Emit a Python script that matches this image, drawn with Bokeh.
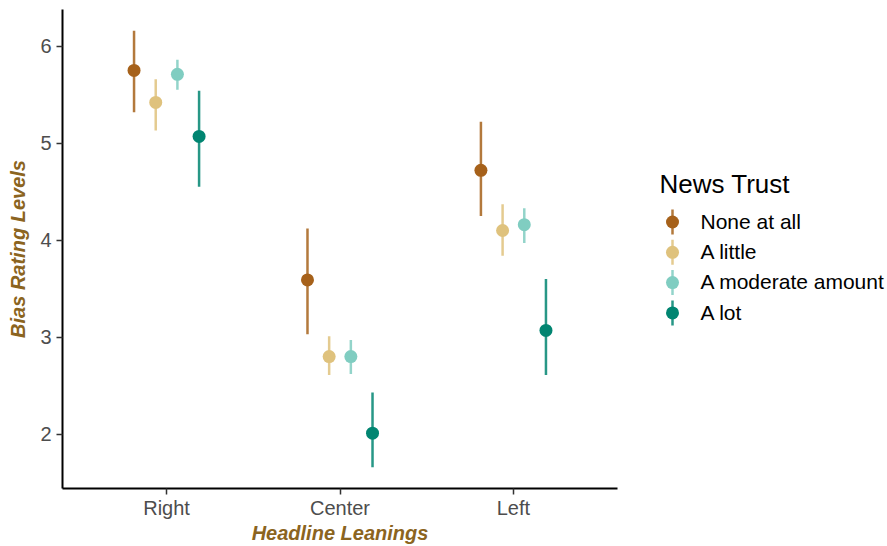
from bokeh.plotting import figure
from bokeh.layouts import row
from bokeh.models import Range1d, FixedTicker
from bokeh.core.properties import value
from bokeh.embed import file_html
from bokeh.resources import INLINE

# ---- data ----
leanings = ["Right", "Center", "Left"]
trust_levels = ["None at all", "A little", "A moderate amount", "A lot"]
colors = ["#A6611A", "#DFC27D", "#80CDC1", "#018571"]

none_mean = [5.75, 3.59, 4.72]
none_lo = [5.32, 3.03, 4.25]
none_hi = [6.16, 4.12, 5.22]

little_mean = [5.42, 2.80, 4.10]
little_lo = [5.13, 2.61, 3.84]
little_hi = [5.66, 3.01, 4.37]

moderate_mean = [5.71, 2.80, 4.16]
moderate_lo = [5.55, 2.62, 3.97]
moderate_hi = [5.86, 2.97, 4.33]

lot_mean = [5.07, 2.01, 3.07]
lot_lo = [4.55, 1.66, 2.61]
lot_hi = [5.54, 2.43, 3.60]

y_ticks = [2, 3, 4, 5, 6]

series = [
    (none_mean, none_lo, none_hi),
    (little_mean, little_lo, little_hi),
    (moderate_mean, moderate_lo, moderate_hi),
    (lot_mean, lot_lo, lot_hi),
]

FONT = "Liberation Sans"
TITLE_COLOR = "#8B6420"
H = 546
TOP, BOTTOM = 9, 58
MAIN_W = 620

# ---- main plot ----
p = figure(width=MAIN_W, height=H, x_range=Range1d(0.4, 3.6), y_range=Range1d(1.44, 6.378),
           output_backend="svg", toolbar_location=None,
           min_border_left=62, min_border_right=3, min_border_top=TOP, min_border_bottom=BOTTOM)
p.background_fill_color = "white"
p.border_fill_color = "white"
p.outline_line_color = None
p.grid.visible = False

dodge_width = 0.5
n = len(trust_levels)
for k, (m, lo, hi) in enumerate(series):
    off = (k - (n - 1) / 2) * dodge_width / n
    xs = [i + 1 + off for i in range(len(leanings))]
    p.segment(x0=xs, y0=lo, x1=xs, y1=hi, line_color=colors[k], line_width=2.5, line_alpha=0.85)
    p.scatter(xs, m, size=13, fill_color=colors[k], line_color=None)

for ax in (p.xaxis[0], p.yaxis[0]):
    ax.axis_line_color = "black"
    ax.axis_line_width = 2
    ax.major_tick_line_color = "#333333"
    ax.major_tick_line_width = 1.5
    ax.major_tick_out = 6
    ax.major_tick_in = 0
    ax.minor_tick_line_color = None
    ax.major_label_text_font = FONT
    ax.major_label_text_font_size = "20px"
    ax.major_label_text_color = "#4D4D4D"
    ax.axis_label_text_font = FONT
    ax.axis_label_text_font_size = "20px"
    ax.axis_label_text_font_style = "bold italic"
    ax.axis_label_text_color = TITLE_COLOR

p.xaxis.ticker = FixedTicker(ticks=[1, 2, 3])
p.xaxis.major_label_overrides = {i + 1: lab for i, lab in enumerate(leanings)}
p.xaxis.axis_label = "Headline Leanings"
p.xaxis.major_label_standoff = 2
p.xaxis.axis_label_standoff = 0

p.yaxis.ticker = FixedTicker(ticks=y_ticks)
p.yaxis.axis_label = "Bias Rating Levels"
p.yaxis.major_label_standoff = 5
p.yaxis.axis_label_standoff = 8

# ---- legend panel (page pixel coordinates) ----
LW = 887 - MAIN_W
lg = figure(width=LW, height=H, x_range=Range1d(MAIN_W, 887), y_range=Range1d(H - BOTTOM, TOP),
            output_backend="svg", toolbar_location=None,
            x_axis_location=None, y_axis_location=None,
            min_border_left=0, min_border_right=0, min_border_top=TOP, min_border_bottom=BOTTOM)
lg.grid.visible = False
lg.outline_line_color = None
lg.background_fill_color = "white"
lg.border_fill_color = "white"

lg.text(x=[659], y=[183.5], text=["News Trust"], text_font=value(FONT), text_font_size="26px",
        text_baseline="alphabetic", text_align="left", text_color="black")
item_y = [221.5 + 30.3 * i for i in range(n)]
lg.segment(x0=[672] * n, y0=[y - 12.5 for y in item_y], x1=[672] * n, y1=[y + 12.5 for y in item_y],
           line_color=colors, line_width=2.5, line_alpha=0.85)
lg.scatter([672] * n, item_y, size=13, fill_color=colors, line_color=None)
lg.text(x=[700] * n, y=[y - 0.7 for y in item_y], text=trust_levels, text_font=value(FONT),
        text_font_size="21px", text_baseline="alphabetic", text_align="left", text_color="black")

layout = row(p, lg)
open("out.html", "w").write(file_html(layout, INLINE))
